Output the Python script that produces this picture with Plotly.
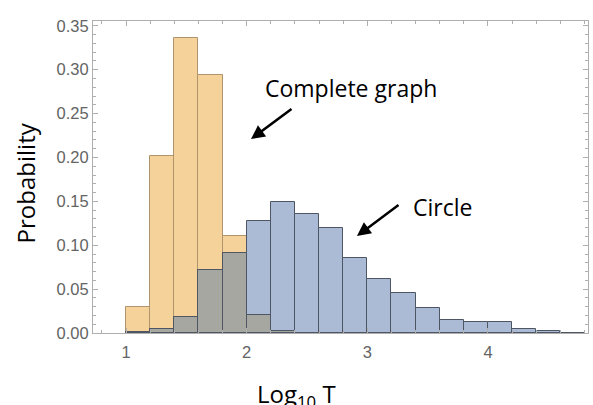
import plotly.graph_objects as go

# Histogram bins of width 0.2 in log10(T)
bin_left = [1.0 + 0.2 * i for i in range(19)]
bin_centers = [round(b + 0.1, 2) for b in bin_left]

# Probability per bin
complete_graph = [0.030, 0.202, 0.336, 0.294, 0.111, 0.020, 0.002]
circle = [0.001, 0.004, 0.018, 0.072, 0.091, 0.128, 0.149, 0.136, 0.120,
          0.086, 0.061, 0.046, 0.028, 0.015, 0.013, 0.013, 0.005, 0.002, 0.0005]

x_ticks = [1, 2, 3, 4]
y_ticks = [0.0, 0.05, 0.10, 0.15, 0.20, 0.25, 0.30, 0.35]

cg_x = bin_centers[:len(complete_graph)]
overlap = [min(a, b) for a, b in zip(complete_graph, circle)]

ORANGE = "rgb(246,210,155)"
ORANGE_EDGE = "rgb(178,148,108)"
BLUE = "rgb(171,187,213)"
BLUE_EDGE = "rgb(78,86,100)"
GREY = "rgb(167,167,161)"

fig = go.Figure()
fig.add_bar(x=cg_x, y=complete_graph, width=0.2,
            marker=dict(color=ORANGE, line=dict(color=ORANGE_EDGE, width=1)))
fig.add_bar(x=bin_centers, y=circle, width=0.2,
            marker=dict(color=BLUE, line=dict(color=BLUE_EDGE, width=1)))
fig.add_bar(x=cg_x, y=overlap, width=0.2,
            marker=dict(color=GREY, line=dict(color=BLUE_EDGE, width=1)))

frame = "rgb(175,175,175)"
tick_font = dict(family="Liberation Sans, Arial", size=16.5, color="rgb(100,100,100)")
fig.update_layout(
    width=593, height=405,
    margin=dict(l=93, r=5, t=21, b=72),
    paper_bgcolor="white", plot_bgcolor="white",
    barmode="overlay", bargap=0, showlegend=False,
    font=tick_font,
)
fig.update_xaxes(
    range=[0.7265, 4.829], tickvals=x_ticks, showgrid=False, zeroline=False,
    showline=True, linecolor=frame, linewidth=1, mirror="allticks",
    ticks="inside", ticklen=5, tickcolor=frame, ticklabelstandoff=4,
    minor=dict(dtick=0.2, tick0=0, ticks="inside", ticklen=3, tickcolor=frame),
    tickfont=tick_font,
)
fig.update_yaxes(
    range=[0, 0.3555], tickvals=y_ticks, tickformat=".2f", showgrid=False,
    zeroline=False, showline=True, linecolor=frame, linewidth=1, mirror="allticks",
    ticks="inside", ticklen=5, tickcolor=frame,
    minor=dict(dtick=0.01, tick0=0, ticks="inside", ticklen=3, tickcolor=frame),
    tickfont=tick_font,
)

label_font = dict(family="Open Sans, DejaVu Sans", size=24, color="black")
fig.add_annotation(xref="paper", yref="paper", x=-0.137, y=0.48, xanchor="center",
                   yanchor="middle", text="Probability", textangle=-90,
                   showarrow=False, font=label_font)
fig.add_annotation(xref="x", yref="paper", x=2.41, y=-0.2, yanchor="middle",
                   text="Log<sub>10</sub> T", showarrow=False, font=label_font)

note_font = dict(family="Open Sans, DejaVu Sans", size=23, color="black")
fig.add_annotation(x=2.863, y=0.279, text="Complete graph", showarrow=False, font=note_font)
fig.add_annotation(x=3.627, y=0.1436, text="Circle", showarrow=False, font=note_font)

for head, tail in [((2.036, 0.221), (2.384, 0.2564)), ((2.914, 0.1105), (3.271, 0.147))]:
    fig.add_annotation(x=head[0], y=head[1], ax=tail[0], ay=tail[1],
                       xref="x", yref="y", axref="x", ayref="y", text="",
                       showarrow=True, arrowhead=2, arrowsize=1.1, arrowwidth=2.5,
                       arrowcolor="black")

fig.write_html("out.html")
